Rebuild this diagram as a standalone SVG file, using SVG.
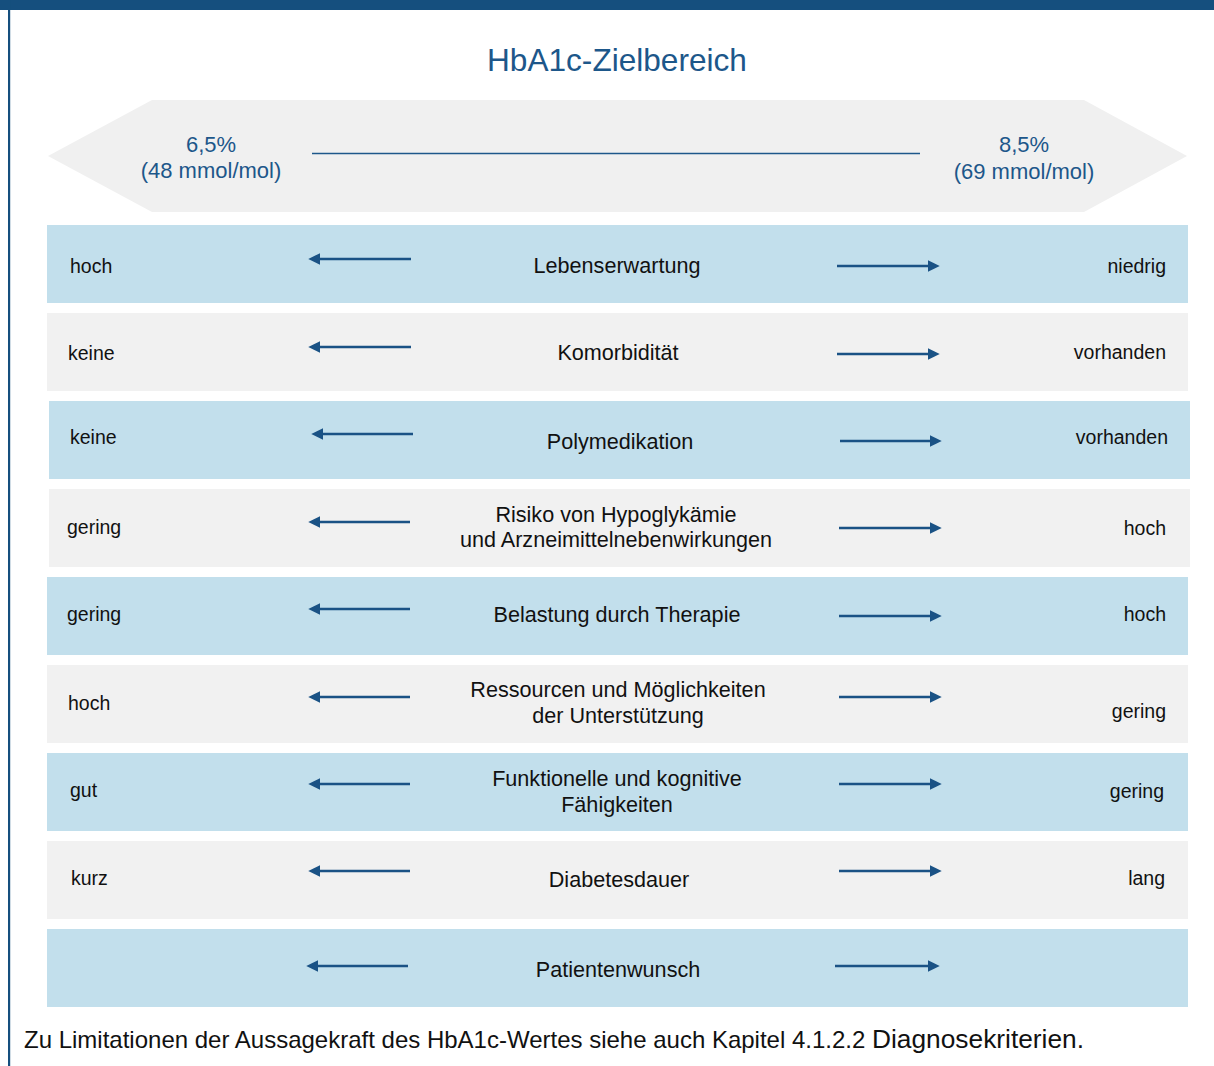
<svg xmlns="http://www.w3.org/2000/svg" width="1214" height="1066" viewBox="0 0 1214 1066">
<style>
text{font-family:"Liberation Sans",Arial,Helvetica,sans-serif;fill:#111}
.title{font-size:31.6px;fill:#1d578a}
.hdr{font-size:22px;fill:#1d578a}
.side{font-size:19.5px}
.ctr{font-size:21.6px}
.foot{font-size:24px}
.rb{fill:#c2dfec}
.rg{fill:#f1f1f1}
.arr{stroke:#1a5285;stroke-width:2.6;fill:none}
</style>
<defs>
<marker id="ah" markerUnits="userSpaceOnUse" markerWidth="12" markerHeight="12" viewBox="0 0 11 11" refX="3" refY="5.5" orient="auto">
<path d="M0,0 L11,5.5 L0,11 z" fill="#1a5285"/>
</marker>
</defs>
<rect x="0" y="0" width="1214" height="10" fill="#154f7e"/>
<rect x="8" y="0" width="2.2" height="1066" fill="#154f7e"/>
<g id="title"><text class="title" x="617" y="71" text-anchor="middle">HbA1c-Zielbereich</text></g>
<g id="header">
<polygon points="48,156 152,100 1084,100 1187,156 1084,212 152,212" fill="#f0f0f0"/>
<line x1="312" y1="153.5" x2="920" y2="153.5" stroke="#1d578a" stroke-width="1.4"/>
<text class="hdr" x="211" y="152" text-anchor="middle">6,5%</text>
<text class="hdr" x="211" y="178" text-anchor="middle">(48 mmol/mol)</text>
<text class="hdr" x="1024" y="152" text-anchor="middle" font-size="22.6">8,5%</text>
<text class="hdr" x="1024" y="179" text-anchor="middle" font-size="23.8">(69 mmol/mol)</text>
</g>
<g id="row1">
<rect class="rb" x="47" y="225" width="1141" height="78"/>
<text class="side" x="70" y="273">hoch</text>
<text class="ctr" x="617" y="273" text-anchor="middle">Lebenserwartung</text>
<text class="side" x="1166" y="273" text-anchor="end">niedrig</text>
</g>
<g id="row2">
<rect class="rg" x="47" y="313" width="1141" height="78"/>
<text class="side" x="68" y="360">keine</text>
<text class="ctr" x="618" y="360" text-anchor="middle">Komorbidität</text>
<text class="side" x="1166" y="359" text-anchor="end">vorhanden</text>
</g>
<g id="row3">
<rect class="rb" x="49" y="401" width="1141" height="78"/>
<text class="side" x="70" y="444">keine</text>
<text class="ctr" x="620" y="449" text-anchor="middle">Polymedikation</text>
<text class="side" x="1168" y="444" text-anchor="end">vorhanden</text>
</g>
<g id="row4">
<rect class="rg" x="49" y="489" width="1141" height="78"/>
<text class="side" x="67" y="534">gering</text>
<text class="ctr" x="616" y="522" text-anchor="middle">Risiko von Hypoglykämie</text>
<text class="ctr" x="616" y="547" text-anchor="middle">und Arzneimittelnebenwirkungen</text>
<text class="side" x="1166" y="535" text-anchor="end">hoch</text>
</g>
<g id="row5">
<rect class="rb" x="47" y="577" width="1141" height="78"/>
<text class="side" x="67" y="621">gering</text>
<text class="ctr" x="617" y="622" text-anchor="middle">Belastung durch Therapie</text>
<text class="side" x="1166" y="621" text-anchor="end">hoch</text>
</g>
<g id="row6">
<rect class="rg" x="47" y="665" width="1141" height="78"/>
<text class="side" x="68" y="710">hoch</text>
<text class="ctr" x="618" y="697" text-anchor="middle">Ressourcen und Möglichkeiten</text>
<text class="ctr" x="618" y="723" text-anchor="middle">der Unterstützung</text>
<text class="side" x="1166" y="718" text-anchor="end">gering</text>
</g>
<g id="row7">
<rect class="rb" x="47" y="753" width="1141" height="78"/>
<text class="side" x="70" y="797">gut</text>
<text class="ctr" x="617" y="786" text-anchor="middle">Funktionelle und kognitive</text>
<text class="ctr" x="617" y="812" text-anchor="middle">Fähigkeiten</text>
<text class="side" x="1164" y="798" text-anchor="end">gering</text>
</g>
<g id="row8">
<rect class="rg" x="47" y="841" width="1141" height="78"/>
<text class="side" x="71" y="885">kurz</text>
<text class="ctr" x="619" y="887" text-anchor="middle">Diabetesdauer</text>
<text class="side" x="1165" y="885" text-anchor="end">lang</text>
</g>
<g id="row9">
<rect class="rb" x="47" y="929" width="1141" height="78"/>
<text class="ctr" x="618" y="977" text-anchor="middle">Patientenwunsch</text>
</g>
<g id="connectors">
<line class="arr" x1="411" y1="259" x2="317" y2="259" marker-end="url(#ah)"/>
<line class="arr" x1="837" y1="266" x2="931" y2="266" marker-end="url(#ah)"/>
<line class="arr" x1="411" y1="347" x2="317" y2="347" marker-end="url(#ah)"/>
<line class="arr" x1="837" y1="354" x2="931" y2="354" marker-end="url(#ah)"/>
<line class="arr" x1="413" y1="434" x2="320" y2="434" marker-end="url(#ah)"/>
<line class="arr" x1="840" y1="441" x2="933" y2="441" marker-end="url(#ah)"/>
<line class="arr" x1="410" y1="522" x2="317" y2="522" marker-end="url(#ah)"/>
<line class="arr" x1="839" y1="528" x2="933" y2="528" marker-end="url(#ah)"/>
<line class="arr" x1="410" y1="609" x2="317" y2="609" marker-end="url(#ah)"/>
<line class="arr" x1="839" y1="616" x2="933" y2="616" marker-end="url(#ah)"/>
<line class="arr" x1="410" y1="697" x2="317" y2="697" marker-end="url(#ah)"/>
<line class="arr" x1="839" y1="697" x2="933" y2="697" marker-end="url(#ah)"/>
<line class="arr" x1="410" y1="784" x2="317" y2="784" marker-end="url(#ah)"/>
<line class="arr" x1="839" y1="784" x2="933" y2="784" marker-end="url(#ah)"/>
<line class="arr" x1="410" y1="871" x2="317" y2="871" marker-end="url(#ah)"/>
<line class="arr" x1="839" y1="871" x2="933" y2="871" marker-end="url(#ah)"/>
<line class="arr" x1="408" y1="966" x2="315" y2="966" marker-end="url(#ah)"/>
<line class="arr" x1="835" y1="966" x2="931" y2="966" marker-end="url(#ah)"/>
</g>
<g id="footnote">
<text class="foot" x="24" y="1048">Zu Limitationen der Aussagekraft des HbA1c-Wertes siehe auch Kapitel 4.1.2.2 <tspan font-size="26.3">Diagnosekriterien.</tspan></text>
</g>
</svg>
